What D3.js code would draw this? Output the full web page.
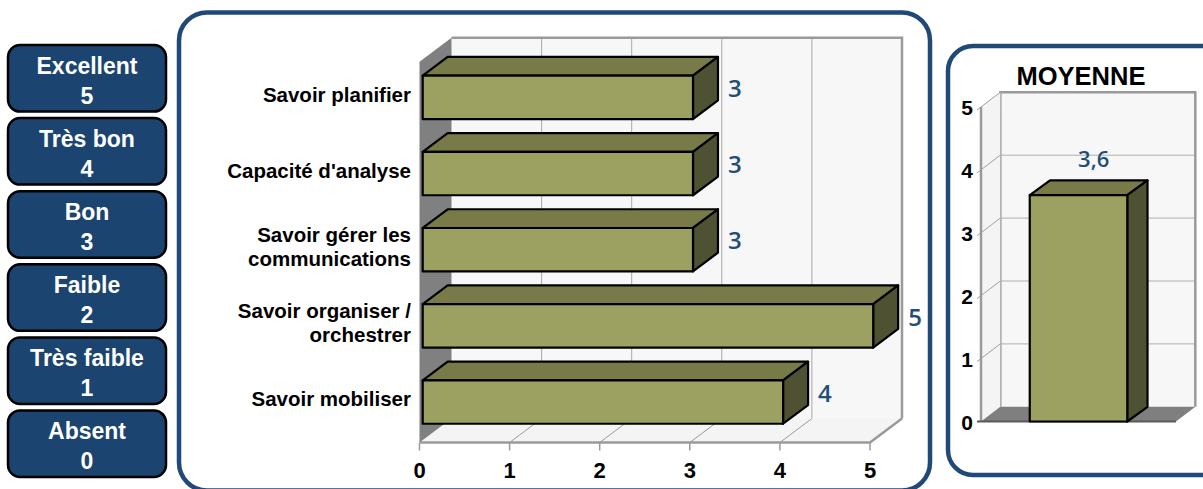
<!DOCTYPE html>
<html>
<head>
<meta charset="utf-8">
<script src="https://cdn.jsdelivr.net/npm/d3@7"></script>
<style>
  body { margin: 0; background: #fff; }
  svg { display: block; }
  text { font-family: "Liberation Sans", Arial, sans-serif; }
</style>
</head>
<body>
<div id="main"></div>
<script>
/*********************************************************
 * Data
 *********************************************************/
const legendLabels = ['Excellent', 'Très bon', 'Bon', 'Faible', 'Très faible', 'Absent'];
const legendValues = [5, 4, 3, 2, 1, 0];

const categories = [
  'Savoir planifier',
  "Capacité d'analyse",
  'Savoir gérer les\ncommunications',
  'Savoir organiser /\norchestrer',
  'Savoir mobiliser'
];
const scores = [3, 3, 3, 5, 4];
const xTicks = [0, 1, 2, 3, 4, 5];

const averageName = ['MOYENNE'];
const averageValue = [3.6];
const averageLabel = ['3,6'];
const yTicks = [0, 1, 2, 3, 4, 5];

/*********************************************************
 * Layout / style
 *********************************************************/
const svgWidth = 1203;
const svgHeight = 489;
const panelBlue = '#1f4a78';
const labelBlue = '#1f4e79';
const olive = { front: '#9ca060', top: '#787b48', side: '#4f5232' };
const wallGray = '#9a9a9a';

const svg = d3.select('#main')
  .append('svg')
  .attr('width', svgWidth)
  .attr('height', svgHeight);

/*********************************************************
 * Legend boxes on the left
 *********************************************************/
const legend = svg.append('g').attr('class', 'legend');
const legendY = d3.scaleBand()
  .domain(legendLabels)
  .range([45, 477])
  .paddingInner(0.09);

const boxes = legend.selectAll('.box')
  .data(legendLabels)
  .enter().append('g')
  .attr('class', 'box')
  .attr('transform', d => `translate(8, ${legendY(d)})`);

boxes.append('rect')
  .attr('width', 158)
  .attr('height', legendY.bandwidth())
  .attr('rx', 12)
  .attr('fill', '#1b4470')
  .attr('stroke', '#000')
  .attr('stroke-width', 2.5);

boxes.append('text')
  .attr('x', 79)
  .attr('y', 29)
  .attr('text-anchor', 'middle')
  .attr('fill', '#fff')
  .style('font-weight', 'bold')
  .style('font-size', '23px')
  .text(d => d);

boxes.append('text')
  .attr('x', 79)
  .attr('y', 59)
  .attr('text-anchor', 'middle')
  .attr('fill', '#fff')
  .style('font-weight', 'bold')
  .style('font-size', '23px')
  .text((d, i) => legendValues[i]);

/*********************************************************
 * Panels
 *********************************************************/
svg.append('rect')
  .attr('x', 179).attr('y', 12.5)
  .attr('width', 751).attr('height', 478)
  .attr('rx', 28)
  .attr('fill', '#fff')
  .attr('stroke', panelBlue)
  .attr('stroke-width', 4.5);

svg.append('rect')
  .attr('x', 948).attr('y', 46)
  .attr('width', 290).attr('height', 429)
  .attr('rx', 25)
  .attr('fill', '#fff')
  .attr('stroke', panelBlue)
  .attr('stroke-width', 4.5);

/*********************************************************
 * Main 3D horizontal bar chart
 *********************************************************/
const depth = { dx: 32, dy: -24 };
const barD0 = 0.1;
const barD1 = 0.88;

const x = d3.scaleLinear().domain([0, 5]).range([419.5, 870]);
const y = d3.scaleBand().domain(categories).range([61.7, 442.5]).padding(0);
const barH = y.bandwidth() * 0.57;
const floorY = y.range()[1];
const topY = y.range()[0];

const main = svg.append('g').attr('class', 'main');

const pts = arr => arr.map(p => p.join(',')).join(' ');

// back wall
main.append('rect')
  .attr('x', x(0) + depth.dx)
  .attr('y', topY + depth.dy)
  .attr('width', x(5) - x(0))
  .attr('height', floorY - topY)
  .attr('fill', '#f7f7f7');

main.selectAll('.grid')
  .data(xTicks.slice(1, -1))
  .enter().append('line')
  .attr('class', 'grid')
  .attr('x1', d => x(d) + depth.dx)
  .attr('x2', d => x(d) + depth.dx)
  .attr('y1', topY + depth.dy)
  .attr('y2', floorY + depth.dy)
  .attr('stroke', '#a8a8a8')
  .attr('stroke-width', 1);

main.append('polyline')
  .attr('points', pts([
    [x(0) + depth.dx, topY + depth.dy],
    [x(5) + depth.dx, topY + depth.dy],
    [x(5) + depth.dx, floorY + depth.dy]
  ]))
  .attr('fill', 'none')
  .attr('stroke', wallGray)
  .attr('stroke-width', 2.5);

// floor
main.append('polygon')
  .attr('points', pts([
    [x(0), floorY], [x(5), floorY],
    [x(5) + depth.dx, floorY + depth.dy], [x(0) + depth.dx, floorY + depth.dy]
  ]))
  .attr('fill', '#f4f4f4');

main.selectAll('.floorline')
  .data(xTicks.slice(1, -1))
  .enter().append('line')
  .attr('class', 'floorline')
  .attr('x1', d => x(d))
  .attr('y1', floorY)
  .attr('x2', d => x(d) + depth.dx)
  .attr('y2', floorY + depth.dy)
  .attr('stroke', '#9a9a9a')
  .attr('stroke-width', 1);

main.append('polyline')
  .attr('points', pts([
    [x(0), floorY], [x(5), floorY], [x(5) + depth.dx, floorY + depth.dy]
  ]))
  .attr('fill', 'none')
  .attr('stroke', wallGray)
  .attr('stroke-width', 2.5);

// left wall
main.append('polygon')
  .attr('points', pts([
    [x(0), topY], [x(0) + depth.dx, topY + depth.dy],
    [x(0) + depth.dx, floorY + depth.dy], [x(0), floorY]
  ]))
  .attr('fill', '#808080');

// x axis ticks and labels
main.selectAll('.tick')
  .data(xTicks)
  .enter().append('line')
  .attr('class', 'tick')
  .attr('x1', d => x(d)).attr('x2', d => x(d))
  .attr('y1', floorY).attr('y2', floorY + 8)
  .attr('stroke', '#9a9a9a')
  .attr('stroke-width', 1.5);

main.selectAll('.xlabel')
  .data(xTicks)
  .enter().append('text')
  .attr('class', 'xlabel')
  .attr('x', d => x(d))
  .attr('y', 478)
  .attr('text-anchor', 'middle')
  .style('font-weight', 'bold')
  .style('font-size', '22px')
  .text(d => d);

// bars
const bars = main.selectAll('.bar')
  .data(categories)
  .enter().append('g')
  .attr('class', 'bar');

const ddx = (barD1 - barD0) * depth.dx;
const ddy = (barD1 - barD0) * depth.dy;

function barGeom(c, i) {
  const x0 = x(0) + barD0 * depth.dx;
  const x1 = x(scores[i]) + barD0 * depth.dx;
  const yt = y(c) + (y.bandwidth() - barH) / 2 + barD0 * depth.dy;
  return { x0, x1, yt, yb: yt + barH };
}

bars.append('polygon')
  .attr('points', (c, i) => {
    const g = barGeom(c, i);
    return pts([[g.x0, g.yt], [g.x1, g.yt], [g.x1 + ddx, g.yt + ddy], [g.x0 + ddx, g.yt + ddy]]);
  })
  .attr('fill', olive.top);

bars.append('polygon')
  .attr('points', (c, i) => {
    const g = barGeom(c, i);
    return pts([[g.x1, g.yt], [g.x1 + ddx, g.yt + ddy], [g.x1 + ddx, g.yb + ddy], [g.x1, g.yb]]);
  })
  .attr('fill', olive.side);

bars.append('rect')
  .attr('x', (c, i) => barGeom(c, i).x0)
  .attr('y', (c, i) => barGeom(c, i).yt)
  .attr('width', (c, i) => barGeom(c, i).x1 - barGeom(c, i).x0)
  .attr('height', barH)
  .attr('fill', olive.front);

bars.selectAll('polygon, rect')
  .attr('stroke', '#000')
  .attr('stroke-width', 2.2)
  .attr('stroke-linejoin', 'round');

bars.append('text')
  .attr('x', (c, i) => barGeom(c, i).x1 + ddx + 10)
  .attr('y', (c, i) => barGeom(c, i).yt + barH / 2 + ddy / 2 + 9)
  .attr('fill', labelBlue)
  .style('font-family', '"Open Sans", sans-serif')
  .style('font-weight', 600)
  .style('font-size', '24px')
  .text((c, i) => scores[i]);

// category labels
const catLabels = main.selectAll('.ylabel')
  .data(categories)
  .enter().append('text')
  .attr('class', 'ylabel')
  .attr('text-anchor', 'end')
  .style('font-weight', 'bold')
  .style('font-size', '20.5px');

catLabels.each(function (c) {
  const lines = c.split('\n');
  const cy = y(c) + y.bandwidth() / 2 - 5;
  d3.select(this).selectAll('tspan')
    .data(lines)
    .enter().append('tspan')
    .attr('x', 411)
    .attr('y', (l, k) => cy + 7 + (k - (lines.length - 1) / 2) * 24)
    .text(l => l);
});

/*********************************************************
 * Average 3D column chart
 *********************************************************/
const avg = svg.append('g').attr('class', 'average');
const dR = { dx: 19.3, dy: -14.7 };
const xR = d3.scaleBand().domain(averageName).range([981, 1176]).paddingInner(0).paddingOuter(0.5);
const yR = d3.scaleLinear().domain([0, 5]).range([421.5, 107]);

avg.append('text')
  .attr('x', 1081)
  .attr('y', 85)
  .attr('text-anchor', 'middle')
  .style('font-weight', 'bold')
  .style('font-size', '25.5px')
  .text(averageName[0]);

// back wall
avg.append('rect')
  .attr('x', xR.range()[0] + dR.dx)
  .attr('y', yR(5) + dR.dy)
  .attr('width', xR.range()[1] - xR.range()[0])
  .attr('height', yR(0) - yR(5))
  .attr('fill', '#f7f7f7');

avg.selectAll('.rgrid')
  .data(yTicks.slice(1, -1))
  .enter().append('line')
  .attr('class', 'rgrid')
  .attr('x1', xR.range()[0] + dR.dx)
  .attr('x2', xR.range()[1] + dR.dx)
  .attr('y1', d => yR(d) + dR.dy)
  .attr('y2', d => yR(d) + dR.dy)
  .attr('stroke', '#b0b0b0')
  .attr('stroke-width', 1);

avg.append('polyline')
  .attr('points', pts([
    [xR.range()[0] + dR.dx, yR(0) + dR.dy],
    [xR.range()[0] + dR.dx, yR(5) + dR.dy],
    [xR.range()[1] + dR.dx, yR(5) + dR.dy],
    [xR.range()[1] + dR.dx, yR(0) + dR.dy]
  ]))
  .attr('fill', 'none')
  .attr('stroke', wallGray)
  .attr('stroke-width', 2.5);

// left wall
avg.append('polygon')
  .attr('points', pts([
    [xR.range()[0], yR(5)], [xR.range()[0] + dR.dx, yR(5) + dR.dy],
    [xR.range()[0] + dR.dx, yR(0) + dR.dy], [xR.range()[0], yR(0)]
  ]))
  .attr('fill', '#f4f4f4');

avg.selectAll('.rdiag')
  .data(yTicks.slice(1))
  .enter().append('line')
  .attr('class', 'rdiag')
  .attr('x1', xR.range()[0] - 4)
  .attr('y1', d => yR(d) + 3)
  .attr('x2', xR.range()[0] + dR.dx)
  .attr('y2', d => yR(d) + dR.dy)
  .attr('stroke', '#a0a0a0')
  .attr('stroke-width', 1);

avg.append('line')
  .attr('x1', xR.range()[0]).attr('x2', xR.range()[0])
  .attr('y1', yR(5)).attr('y2', yR(0))
  .attr('stroke', wallGray)
  .attr('stroke-width', 2.5);

// floor
avg.append('polygon')
  .attr('points', pts([
    [xR.range()[0], yR(0)], [xR.range()[1], yR(0)],
    [xR.range()[1] + dR.dx, yR(0) + dR.dy], [xR.range()[0] + dR.dx, yR(0) + dR.dy]
  ]))
  .attr('fill', '#7f7f7f');

avg.append('line')
  .attr('x1', xR.range()[0] - 4).attr('x2', xR.range()[1])
  .attr('y1', yR(0)).attr('y2', yR(0))
  .attr('stroke', '#5a5a5a')
  .attr('stroke-width', 2);

avg.selectAll('.rlabel')
  .data(yTicks)
  .enter().append('text')
  .attr('class', 'rlabel')
  .attr('x', 973)
  .attr('y', d => yR(d) + 8)
  .attr('text-anchor', 'end')
  .style('font-weight', 'bold')
  .style('font-size', '21px')
  .text(d => d);

// column
const col = avg.selectAll('.col')
  .data(averageName)
  .enter().append('g')
  .attr('class', 'col');

const cx0 = xR(averageName[0]);
const cx1 = cx0 + xR.bandwidth();
const cyt = yR(averageValue[0]);
const cyb = yR(0);
const cdx = dR.dx * 1.05;
const cdy = dR.dy;

col.append('polygon')
  .attr('points', pts([[cx0, cyt], [cx1, cyt], [cx1 + cdx, cyt + cdy], [cx0 + cdx, cyt + cdy]]))
  .attr('fill', olive.top);
col.append('polygon')
  .attr('points', pts([[cx1, cyt], [cx1 + cdx, cyt + cdy], [cx1 + cdx, cyb + cdy], [cx1, cyb]]))
  .attr('fill', olive.side);
col.append('rect')
  .attr('x', cx0).attr('y', cyt)
  .attr('width', cx1 - cx0).attr('height', cyb - cyt)
  .attr('fill', olive.front);
col.selectAll('polygon, rect')
  .attr('stroke', '#000')
  .attr('stroke-width', 2.2)
  .attr('stroke-linejoin', 'round');

col.append('text')
  .attr('x', (cx0 + cx1) / 2 + cdx * 0.75)
  .attr('y', cyt + cdy - 13)
  .attr('text-anchor', 'middle')
  .attr('fill', labelBlue)
  .style('font-family', '"Open Sans", sans-serif')
  .style('font-weight', 600)
  .style('font-size', '22px')
  .text(averageLabel[0]);
</script>
</body>
</html>
